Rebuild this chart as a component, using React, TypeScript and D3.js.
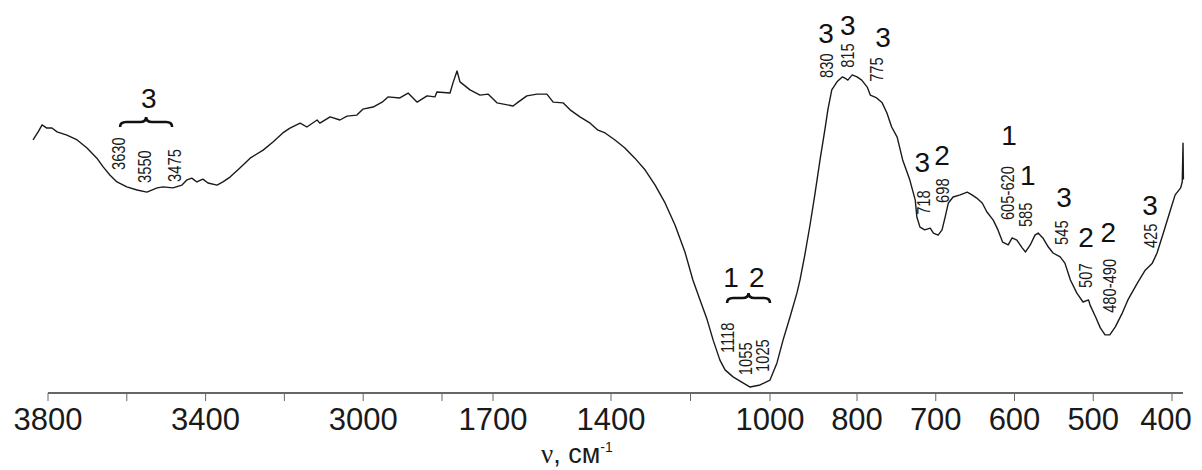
import React from "react";
import * as d3 from "d3";

// Wavenumbers (cm^-1) of the traced spectrum points
const wavenumbers: number[] = [
  3838, 3825, 3815, 3803, 3790, 3777, 3752, 3726, 3701, 3676, 3660, 3643, 3625, 3600, 3574, 3549,
  3523, 3508, 3483, 3460, 3447, 3435, 3422, 3407, 3394, 3371, 3356, 3338, 3313, 3287, 3254, 3229,
  3204, 3186, 3160, 3143, 3117, 3110, 3084, 3059, 3041, 3016, 3001, 2975, 2952, 2937, 2907, 2886,
  2863, 2838, 2818, 2813, 2627, 2563, 2476, 2412, 2196, 1980, 1808, 1690, 1649, 1636, 1614, 1588,
  1563, 1547, 1522, 1504, 1479, 1453, 1433, 1415, 1390, 1365, 1340, 1314, 1289, 1264, 1239, 1214,
  1194, 1176, 1158, 1143, 1126, 1113, 1093, 1068, 1050, 1025, 1000, 984, 970, 954, 938, 931,
  920, 908, 897, 885, 874, 867, 858, 846, 834, 828, 821, 811, 800, 794, 787, 783,
  775, 768, 762, 756, 749, 742, 733, 726, 724, 720, 714, 707, 703, 697, 692, 688,
  684, 678, 669, 660, 654, 648, 641, 635, 627, 621, 615, 608, 603, 597, 590, 586,
  580, 574, 570, 564, 557, 551, 542, 536, 529, 521, 513, 506, 504, 497, 491, 485,
  479, 472, 463, 456, 444, 434, 425, 419, 411, 402, 396, 389, 387, 386, 385.5,
];

// Transmittance (arbitrary %)
const transmittance: number[] = [
  72.3, 74.6, 76.6, 75.7, 75.7, 74.6, 73.7, 72.3, 70.0, 67.1, 64.6, 62.3, 60.3, 58.9, 58.0, 57.4,
  58.6, 58.9, 58.6, 59.4, 60.9, 61.4, 60.3, 61.1, 60.0, 59.4, 60.3, 61.7, 64.3, 67.1, 69.4, 71.7,
  74.3, 75.7, 77.1, 76.0, 78.0, 77.1, 78.9, 78.0, 79.1, 79.4, 81.1, 81.7, 83.1, 84.6, 84.3, 85.7,
  83.1, 84.9, 84.6, 86.0, 85.7, 88.6, 92.0, 88.9, 86.6, 85.1, 85.4, 82.9, 82.0, 83.1, 84.9, 85.4,
  85.4, 83.1, 82.9, 80.9, 78.9, 77.1, 75.1, 74.3, 72.3, 70.0, 67.1, 63.7, 59.4, 54.3, 48.0, 40.3,
  32.3, 26.6, 20.9, 15.1, 9.4, 6.6, 4.6, 2.9, 1.7, 2.3, 3.7, 8.6, 15.1, 21.7, 28.6, 32.3,
  39.4, 48.0, 56.6, 66.6, 75.1, 80.9, 86.6, 88.9, 90.3, 90.0, 89.4, 90.9, 90.3, 89.4, 87.4, 85.1,
  84.3, 82.9, 80.0, 76.0, 73.1, 66.6, 60.9, 55.1, 50.3, 47.4, 46.6, 47.1, 45.7, 45.1, 46.6, 50.3,
  54.3, 56.0, 56.6, 57.4, 56.6, 55.7, 54.3, 51.7, 49.4, 46.6, 43.1, 42.3, 44.3, 43.7, 41.4, 40.3,
  42.3, 45.1, 45.7, 44.3, 41.7, 40.0, 38.9, 37.1, 32.3, 28.6, 26.0, 26.6, 25.1, 21.7, 18.6, 16.6,
  16.6, 18.9, 22.9, 26.6, 31.4, 35.1, 37.1, 40.0, 45.7, 52.3, 56.6, 58.6, 60.3, 71.4, 61.0,
];

// Axis ticks
const tickValues: number[] = [3800, 3600, 3400, 3200, 3000, 2800, 1700, 1400, 1200, 1000, 800, 700, 600, 500, 400];
const tickLabels: number[] = [3800, 3400, 3000, 1700, 1400, 1000, 800, 700, 600, 500, 400];

// Peak labels (rotated): text, wavenumber, transmittance level where the text starts
const peakTexts: string[] = ["3630", "3550", "3475", "1118", "1055", "1025", "830", "815", "775", "718", "698", "605-620", "585", "545", "507", "480-490", "425"];
const peakWn: number[] = [3622, 3554, 3478, 1108, 1063, 1018, 871, 823, 775, 716, 692, 609, 586, 541, 510, 479, 428];
const peakT: number[] = [63.7, 60.0, 60.3, 11.4, 5.1, 6.0, 90.0, 92.9, 88.9, 50.9, 54.3, 49.4, 47.4, 42.3, 30.0, 22.9, 41.4];

// Assignment numbers (big labels)
const groupTexts: string[] = ["3", "1", "2", "3", "3", "3", "3", "2", "1", "1", "3", "2", "2", "3"];
const groupWn: number[] = [3544, 1098, 1033, 871, 821, 767, 717, 692, 607, 583, 537, 509, 481, 428];
const groupT: number[] = [81.4, 30.3, 30.3, 100, 102.3, 98.9, 63.1, 65.1, 70.9, 59.4, 53.1, 41.7, 43.1, 50.9];

// Braces: start / end wavenumber and level of the brace ends
const braceFrom: number[] = [3617, 1108];
const braceTo: number[] = [3485, 1000];
const braceT: number[] = [76.0, 25.7];

const W = 1202;
const H = 470;

export default function App() {
  const x = d3
    .scaleLinear()
    .domain([3800, 2800, 1700, 1400, 1000, 800, 400])
    .range([48, 442, 493, 611, 770, 857, 1172]);
  const y = d3.scaleLinear().domain([0, 100]).range([393, 43]);

  const pts: [number, number][] = wavenumbers.map((w, i) => [w, transmittance[i]]);
  const line = d3
    .line<[number, number]>()
    .x((d) => x(d[0]))
    .y((d) => y(d[1]));

  const axisY = y(0);
  const axisEnd = 386;

  const bracePath = (w0: number, w1: number, t: number) => {
    const x0 = x(w0);
    const x1 = x(w1);
    const yb = y(t);
    const ym = yb - 5;
    const yt = yb - 10;
    const xc = (x0 + x1) / 2;
    const r = 6;
    return `M${x0},${yb} Q${x0},${ym} ${x0 + r},${ym} L${xc - r},${ym} Q${xc},${ym} ${xc},${yt} Q${xc},${ym} ${xc + r},${ym} L${x1 - r},${ym} Q${x1},${ym} ${x1},${yb}`;
  };

  const font = "'Liberation Sans', Arial, Helvetica, sans-serif";

  return (
    <svg
      width={W}
      height={H}
      style={{ position: "absolute", left: 0, top: 0, background: "#fff" }}
      fontFamily={font}
    >
      <rect x={0} y={0} width={W} height={H} fill="#fff" />
      {/* axis */}
      <line x1={x(3800)} x2={x(axisEnd)} y1={axisY} y2={axisY} stroke="#333" strokeWidth={1.4} />
      {tickValues.map((t) => (
        <line key={"t" + t} x1={x(t)} x2={x(t)} y1={axisY} y2={axisY + 8} stroke="#666" strokeWidth={1} />
      ))}
      {tickLabels.map((t) => (
        <text
          key={"l" + t}
          x={Math.min(x(t), W - 36)}
          y={axisY + 37}
          fontSize={31}
          textAnchor="middle"
          fill="#1a1a1a"
        >
          {t}
        </text>
      ))}
      <text x={541} y={463} fontSize={27} fill="#1a1a1a">
        <tspan fontFamily="'Liberation Serif', 'DejaVu Serif', serif">ν</tspan>
        <tspan>, см</tspan>
        <tspan fontSize={14} dy={-11}>-1</tspan>
      </text>

      {/* spectrum */}
      <path d={line(pts) || ""} fill="none" stroke="#1a1a1a" strokeWidth={1.4} strokeLinejoin="round" />

      {/* braces */}
      {braceFrom.map((b, i) => (
        <path key={"b" + i} d={bracePath(b, braceTo[i], braceT[i])} fill="none" stroke="#111" strokeWidth={2.6} />
      ))}

      {/* peak labels */}
      {peakTexts.map((s, i) => (
        <text
          key={"p" + i}
          transform={`translate(${x(peakWn[i])},${y(peakT[i])}) rotate(-90) scale(0.82,1)`}
          fontSize={18}
          dominantBaseline="central"
          fill="#1a1a1a"
        >
          {s}
        </text>
      ))}

      {/* assignment numbers */}
      {groupTexts.map((s, i) => (
        <text key={"g" + i} x={x(groupWn[i])} y={y(groupT[i])} fontSize={28} textAnchor="middle" fill="#111">
          {s}
        </text>
      ))}
    </svg>
  );
}
